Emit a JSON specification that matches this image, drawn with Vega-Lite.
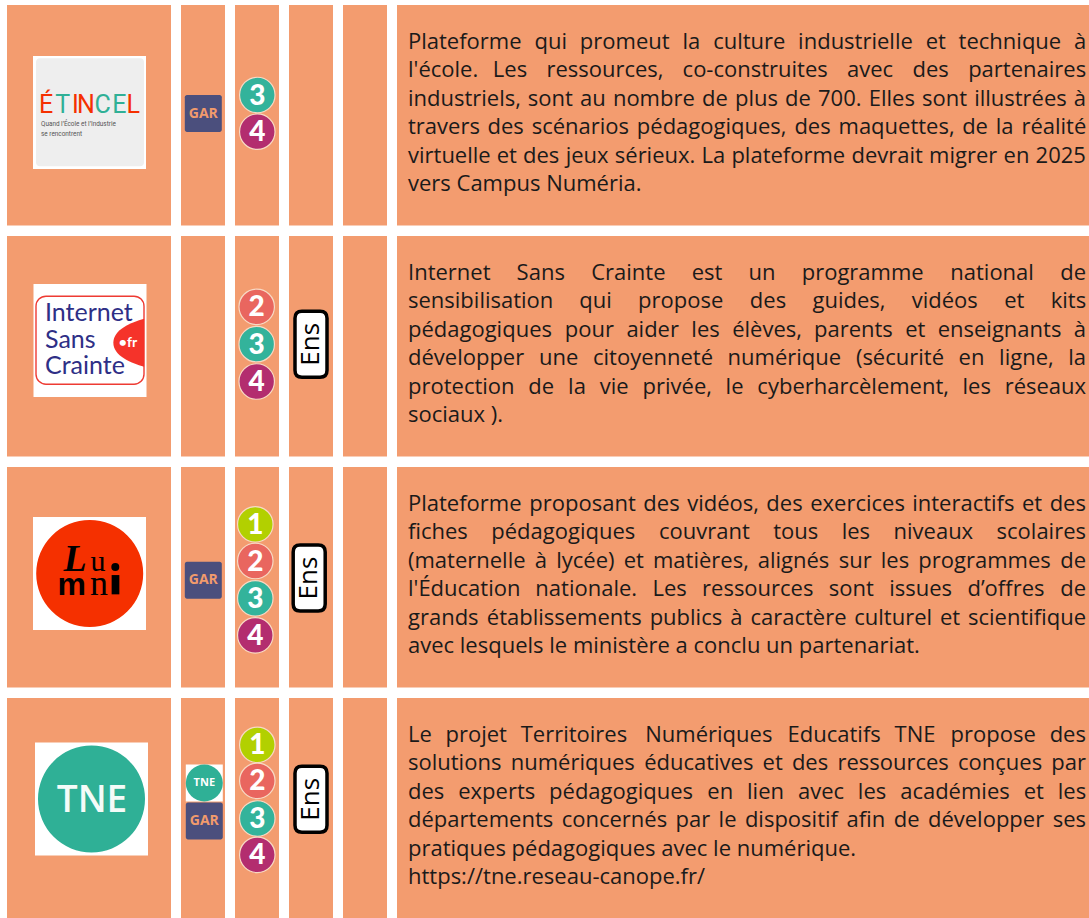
{
"$schema":"https://vega.github.io/schema/vega-lite/v6.json",
"background":"white",
"padding":{"left":7,"top":5,"right":0,"bottom":0},
"spacing":10,
"config":{"view":{"stroke":null}},
"datasets":{
"logos":[
{"row":"ETINCEL","part":"square","across":82.5,"down":107.5},{"row":"ISC","part":"square","across":83,"down":104.5},{"row":"LUMNI","part":"square","across":82.5,"down":106.5},{"row":"TNE","part":"square","across":84.5,"down":101},
{"row":"ETINCEL","part":"plate","across":83,"down":107.3},
{"row":"LUMNI","part":"disc","across":82.7,"down":106.5},{"row":"TNE","part":"disc","across":84.5,"down":101},
{"row":"ETINCEL","part":"letter","t":"É","across":39,"down":100,"tone":"navy"},{"row":"ETINCEL","part":"letter","t":"T","across":55.7,"down":100,"tone":"red"},{"row":"ETINCEL","part":"letter","t":"I","across":68.3,"down":100,"tone":"navy"},{"row":"ETINCEL","part":"letter","t":"N","across":79,"down":100,"tone":"navy"},{"row":"ETINCEL","part":"letter","t":"C","across":95.7,"down":100,"tone":"red"},{"row":"ETINCEL","part":"letter","t":"E","across":112.3,"down":100,"tone":"red"},{"row":"ETINCEL","part":"letter","t":"L","across":126.3,"down":100,"tone":"navy"},
{"row":"ETINCEL","part":"tagline","across":34,"down":119,"t":"Quand l’École et l’Industrie"},{"row":"ETINCEL","part":"tagline","across":34,"down":128.5,"t":"se rencontrent"},
{"row":"ISC","part":"border","across":83,"down":104.2},
{"row":"ISC","part":"bulge","across":121.7,"down":106.8},
{"row":"ISC","part":"isc","across":38,"down":77.2,"t":"Internet"},{"row":"ISC","part":"isc","across":38,"down":103.5,"t":"Sans"},{"row":"ISC","part":"isc","across":38,"down":129.5,"t":"Crainte"},
{"row":"ISC","part":"fr","across":121,"down":106.8,"t":"•fr"},
{"row":"LUMNI","part":"L","across":68,"down":92.6,"t":"L"},
{"row":"LUMNI","part":"u","across":91,"down":95,"t":"u"},
{"row":"LUMNI","part":"n","across":92,"down":116.5,"t":"n"},
{"row":"LUMNI","part":"m","across":64.7,"down":117.7,"t":"m"},
{"row":"LUMNI","part":"stem","across":108.5,"down":117.7},
{"row":"LUMNI","part":"dot","across":108.3,"down":100},
{"row":"TNE","part":"tne","across":85,"down":103,"t":"TNE"}
],
"access":[
{"row":"ETINCEL","part":"gar","across":22.3,"down":108.5},{"row":"ISC","part":"cell"},{"row":"LUMNI","part":"gar","across":22.3,"down":113.3},{"row":"TNE","part":"gar","across":23.3,"down":123},
{"row":"TNE","part":"tneSmall","across":23.3,"down":85}
],
"levels":[
{"row":"ETINCEL","level":"3","across":22.3,"down":90},{"row":"ETINCEL","level":"4","across":22.3,"down":126.7},
{"row":"ISC","level":"2","across":21.7,"down":70.8},{"row":"ISC","level":"3","across":21.7,"down":108.2},{"row":"ISC","level":"4","across":21.7,"down":145.5},
{"row":"LUMNI","level":"1","across":20.3,"down":57.3},{"row":"LUMNI","level":"2","across":20.3,"down":94},{"row":"LUMNI","level":"3","across":20.3,"down":131.3},{"row":"LUMNI","level":"4","across":20.3,"down":168.3},
{"row":"TNE","level":"1","across":22.3,"down":46.8},{"row":"TNE","level":"2","across":22.3,"down":82.8},{"row":"TNE","level":"3","across":22.3,"down":120.5},{"row":"TNE","level":"4","across":22.3,"down":156.8}],
"ens":[{"row":"ETINCEL","part":"cell"},{"row":"ISC","part":"ens","across":22,"down":108.3},{"row":"LUMNI","part":"ens","across":20.2,"down":111},{"row":"TNE","part":"ens","across":22,"down":101.3}],
"cells":[{"row":"ETINCEL"},{"row":"ISC"},{"row":"LUMNI"},{"row":"TNE"}],
"words":[
{"row":"ETINCEL","line":0,"start":0,"word":"Plateforme"},{"row":"ETINCEL","line":0,"start":18.66,"word":"qui"},{"row":"ETINCEL","line":0,"start":25.35,"word":"promeut"},{"row":"ETINCEL","line":0,"start":40.49,"word":"la"},{"row":"ETINCEL","line":0,"start":45.01,"word":"culture"},{"row":"ETINCEL","line":0,"start":57.54,"word":"industrielle"},{"row":"ETINCEL","line":0,"start":76.35,"word":"et"},{"row":"ETINCEL","line":0,"start":81.21,"word":"technique"},{"row":"ETINCEL","line":0,"start":98.22,"word":"à"},
{"row":"ETINCEL","line":1,"start":0,"word":"l'école."},{"row":"ETINCEL","line":1,"start":12.51,"word":"Les"},{"row":"ETINCEL","line":1,"start":20.42,"word":"ressources,"},{"row":"ETINCEL","line":1,"start":40.5,"word":"co-construites"},{"row":"ETINCEL","line":1,"start":64.75,"word":"avec"},{"row":"ETINCEL","line":1,"start":74.4,"word":"des"},{"row":"ETINCEL","line":1,"start":82.62,"word":"partenaires"},
{"row":"ETINCEL","line":2,"start":0,"word":"industriels,"},{"row":"ETINCEL","line":2,"start":17.67,"word":"sont"},{"row":"ETINCEL","line":2,"start":25.37,"word":"au"},{"row":"ETINCEL","line":2,"start":30.22,"word":"nombre"},{"row":"ETINCEL","line":2,"start":43.37,"word":"de"},{"row":"ETINCEL","line":2,"start":48.22,"word":"plus"},{"row":"ETINCEL","line":2,"start":55.62,"word":"de"},{"row":"ETINCEL","line":2,"start":60.47,"word":"700."},{"row":"ETINCEL","line":2,"start":67.95,"word":"Elles"},{"row":"ETINCEL","line":2,"start":75.8,"word":"sont"},{"row":"ETINCEL","line":2,"start":83.5,"word":"illustrées"},{"row":"ETINCEL","line":2,"start":98.2,"word":"à"},
{"row":"ETINCEL","line":3,"start":0,"word":"travers"},{"row":"ETINCEL","line":3,"start":11.73,"word":"des"},{"row":"ETINCEL","line":3,"start":18.24,"word":"scénarios"},{"row":"ETINCEL","line":3,"start":33.75,"word":"pédagogiques,"},{"row":"ETINCEL","line":3,"start":56.99,"word":"des"},{"row":"ETINCEL","line":3,"start":63.5,"word":"maquettes,"},{"row":"ETINCEL","line":3,"start":81.73,"word":"de"},{"row":"ETINCEL","line":3,"start":86.69,"word":"la"},{"row":"ETINCEL","line":3,"start":90.47,"word":"réalité"},
{"row":"ETINCEL","line":4,"start":0,"word":"virtuelle"},{"row":"ETINCEL","line":4,"start":13.09,"word":"et"},{"row":"ETINCEL","line":4,"start":16.97,"word":"des"},{"row":"ETINCEL","line":4,"start":23.25,"word":"jeux"},{"row":"ETINCEL","line":4,"start":30.5,"word":"sérieux."},{"row":"ETINCEL","line":4,"start":43.3,"word":"La"},{"row":"ETINCEL","line":4,"start":47.7,"word":"plateforme"},{"row":"ETINCEL","line":4,"start":65.42,"word":"devrait"},{"row":"ETINCEL","line":4,"start":76.85,"word":"migrer"},{"row":"ETINCEL","line":4,"start":87.85,"word":"en"},{"row":"ETINCEL","line":4,"start":92.57,"word":"2025"},
{"row":"ETINCEL","line":5,"start":0,"word":"vers Campus Numéria."},
{"row":"ISC","line":0,"start":0,"word":"Internet"},{"row":"ISC","line":0,"start":16.02,"word":"Sans"},{"row":"ISC","line":0,"start":27.02,"word":"Crainte"},{"row":"ISC","line":0,"start":41.84,"word":"est"},{"row":"ISC","line":0,"start":50.22,"word":"un"},{"row":"ISC","line":0,"start":58.07,"word":"programme"},{"row":"ISC","line":0,"start":79.98,"word":"national"},{"row":"ISC","line":0,"start":96.19,"word":"de"},
{"row":"ISC","line":1,"start":0,"word":"sensibilisation"},{"row":"ISC","line":1,"start":25.25,"word":"qui"},{"row":"ISC","line":1,"start":33.94,"word":"propose"},{"row":"ISC","line":1,"start":50.42,"word":"des"},{"row":"ISC","line":1,"start":59.66,"word":"guides,"},{"row":"ISC","line":1,"start":74.29,"word":"vidéos"},{"row":"ISC","line":1,"start":87.93,"word":"et"},{"row":"ISC","line":1,"start":94.79,"word":"kits"},
{"row":"ISC","line":2,"start":0,"word":"pédagogiques"},{"row":"ISC","line":2,"start":23.12,"word":"pour"},{"row":"ISC","line":2,"start":32.21,"word":"aider"},{"row":"ISC","line":2,"start":41.79,"word":"les"},{"row":"ISC","line":2,"start":47.81,"word":"élèves,"},{"row":"ISC","line":2,"start":59.88,"word":"parents"},{"row":"ISC","line":2,"start":73.33,"word":"et"},{"row":"ISC","line":2,"start":78.12,"word":"enseignants"},{"row":"ISC","line":2,"start":98.2,"word":"à"},
{"row":"ISC","line":3,"start":0,"word":"développer"},{"row":"ISC","line":3,"start":19.31,"word":"une"},{"row":"ISC","line":3,"start":27.28,"word":"citoyenneté"},{"row":"ISC","line":3,"start":47.13,"word":"numérique"},{"row":"ISC","line":3,"start":66.06,"word":"(sécurité"},{"row":"ISC","line":3,"start":81.21,"word":"en"},{"row":"ISC","line":3,"start":87.18,"word":"ligne,"},{"row":"ISC","line":3,"start":97.37,"word":"la"},
{"row":"ISC","line":4,"start":0,"word":"protection"},{"row":"ISC","line":4,"start":17.75,"word":"de"},{"row":"ISC","line":4,"start":23.61,"word":"la"},{"row":"ISC","line":4,"start":28.29,"word":"vie"},{"row":"ISC","line":4,"start":34.6,"word":"privée,"},{"row":"ISC","line":4,"start":46.84,"word":"le"},{"row":"ISC","line":4,"start":51.53,"word":"cyberharcèlement,"},{"row":"ISC","line":4,"start":81.78,"word":"les"},{"row":"ISC","line":4,"start":88,"word":"réseaux"},
{"row":"ISC","line":5,"start":0,"word":"sociaux )."},
{"row":"LUMNI","line":0,"start":0,"word":"Plateforme"},{"row":"LUMNI","line":0,"start":17.89,"word":"proposant"},{"row":"LUMNI","line":0,"start":34.71,"word":"des"},{"row":"LUMNI","line":0,"start":41.18,"word":"vidéos,"},{"row":"LUMNI","line":0,"start":52.85,"word":"des"},{"row":"LUMNI","line":0,"start":59.32,"word":"exercices"},{"row":"LUMNI","line":0,"start":74.37,"word":"interactifs"},{"row":"LUMNI","line":0,"start":90.55,"word":"et"},{"row":"LUMNI","line":0,"start":94.64,"word":"des"},
{"row":"LUMNI","line":1,"start":0,"word":"fiches"},{"row":"LUMNI","line":1,"start":12.28,"word":"pédagogiques"},{"row":"LUMNI","line":1,"start":37.03,"word":"couvrant"},{"row":"LUMNI","line":1,"start":53.86,"word":"tous"},{"row":"LUMNI","line":1,"start":63.97,"word":"les"},{"row":"LUMNI","line":1,"start":71.61,"word":"niveaux"},{"row":"LUMNI","line":1,"start":86.81,"word":"scolaires"},
{"row":"LUMNI","line":2,"start":0,"word":"(maternelle"},{"row":"LUMNI","line":2,"start":18.71,"word":"à"},{"row":"LUMNI","line":2,"start":21.86,"word":"lycée)"},{"row":"LUMNI","line":2,"start":31.81,"word":"et"},{"row":"LUMNI","line":2,"start":36.13,"word":"matières,"},{"row":"LUMNI","line":2,"start":51.58,"word":"alignés"},{"row":"LUMNI","line":2,"start":63.52,"word":"sur"},{"row":"LUMNI","line":2,"start":69.73,"word":"les"},{"row":"LUMNI","line":2,"start":75.27,"word":"programmes"},{"row":"LUMNI","line":2,"start":96.2,"word":"de"},
{"row":"LUMNI","line":3,"start":0,"word":"l'Éducation"},{"row":"LUMNI","line":3,"start":18.78,"word":"nationale."},{"row":"LUMNI","line":3,"start":36.06,"word":"Les"},{"row":"LUMNI","line":3,"start":43.37,"word":"ressources"},{"row":"LUMNI","line":3,"start":62.06,"word":"sont"},{"row":"LUMNI","line":3,"start":70.97,"word":"issues"},{"row":"LUMNI","line":3,"start":82.51,"word":"d’offres"},{"row":"LUMNI","line":3,"start":96.19,"word":"de"},
{"row":"LUMNI","line":4,"start":0,"word":"grands"},{"row":"LUMNI","line":4,"start":11.62,"word":"établissements"},{"row":"LUMNI","line":4,"start":35.64,"word":"publics"},{"row":"LUMNI","line":4,"start":47.53,"word":"à"},{"row":"LUMNI","line":4,"start":50.51,"word":"caractère"},{"row":"LUMNI","line":4,"start":65.82,"word":"culturel"},{"row":"LUMNI","line":4,"start":78.45,"word":"et"},{"row":"LUMNI","line":4,"start":82.59,"word":"scientifique"},
{"row":"LUMNI","line":5,"start":0,"word":"avec lesquels le ministère a conclu un partenariat."},
{"row":"TNE","line":0,"start":0,"word":"Le"},{"row":"TNE","line":0,"start":5.53,"word":"projet"},{"row":"TNE","line":0,"start":16.62,"word":"Territoires"},{"row":"TNE","line":0,"start":35,"word":"Numériques"},{"row":"TNE","line":0,"start":55.98,"word":"Educatifs"},{"row":"TNE","line":0,"start":71.76,"word":"TNE"},{"row":"TNE","line":0,"start":80.03,"word":"propose"},{"row":"TNE","line":0,"start":94.64,"word":"des"},
{"row":"TNE","line":1,"start":0,"word":"solutions"},{"row":"TNE","line":1,"start":15.15,"word":"numériques"},{"row":"TNE","line":1,"start":34.83,"word":"éducatives"},{"row":"TNE","line":1,"start":52.29,"word":"et"},{"row":"TNE","line":1,"start":56.62,"word":"des"},{"row":"TNE","line":1,"start":63.34,"word":"ressources"},{"row":"TNE","line":1,"start":81.13,"word":"conçues"},{"row":"TNE","line":1,"start":94.89,"word":"par"},
{"row":"TNE","line":2,"start":0,"word":"des"},{"row":"TNE","line":2,"start":7.41,"word":"experts"},{"row":"TNE","line":2,"start":20.81,"word":"pédagogiques"},{"row":"TNE","line":2,"start":44.15,"word":"en"},{"row":"TNE","line":2,"start":50.01,"word":"lien"},{"row":"TNE","line":2,"start":57.51,"word":"avec"},{"row":"TNE","line":2,"start":66.35,"word":"les"},{"row":"TNE","line":2,"start":72.59,"word":"académies"},{"row":"TNE","line":2,"start":90.81,"word":"et"},{"row":"TNE","line":2,"start":95.83,"word":"les"},
{"row":"TNE","line":3,"start":0,"word":"départements"},{"row":"TNE","line":3,"start":22.66,"word":"concernés"},{"row":"TNE","line":3,"start":39.45,"word":"par"},{"row":"TNE","line":3,"start":45.81,"word":"le"},{"row":"TNE","line":3,"start":49.69,"word":"dispositif"},{"row":"TNE","line":3,"start":64.68,"word":"afin"},{"row":"TNE","line":3,"start":71.64,"word":"de"},{"row":"TNE","line":3,"start":76.69,"word":"développer"},{"row":"TNE","line":3,"start":95.08,"word":"ses"},
{"row":"TNE","line":4,"start":0,"word":"pratiques pédagogiques avec le numérique."},
{"row":"TNE","line":5,"start":0,"word":"https://tne.reseau-canope.fr/"}
]
},
"hconcat":[
{"data":{"name":"logos"},"facet":{"row":{"field":"row","type":"nominal","header":null}},"spacing":10,"spec":{"width":164,"height":220.5,"view":{"fill":"#f39c6f","stroke":null},
"encoding":{
"x":{"field":"across","type":"quantitative","axis":null,"scale":{"domain":[0,164],"range":[0,164]}},
"y":{"field":"down","type":"quantitative","axis":null,"scale":{"domain":[0,220.5],"range":[0,220.5]}}},
"layer":[
{"transform":[{"filter":"datum.part==='square'"}],"mark":{"type":"point","shape":"square","filled":true,"color":"white","opacity":1,"size":12769}},
{"transform":[{"filter":"datum.part==='plate'"}],"mark":{"type":"point","filled":true,"opacity":1,"color":"#eeeeee","size":11664,"shape":"M-0.93,-1 H0.93 A0.07,0.07 0 0 1 1,-0.93 V0.93 A0.07,0.07 0 0 1 0.93,1 H-0.93 A0.07,0.07 0 0 1 -1,0.93 V-0.93 A0.07,0.07 0 0 1 -0.93,-1 Z"}},
{"transform":[{"filter":"datum.part==='disc'"}],"mark":{"type":"point","shape":"circle","filled":true,"opacity":1,"size":11449},"encoding":{"color":{"field":"row","type":"nominal","legend":null,"scale":{"domain":["LUMNI","TNE"],"range":["#f53000","#2fb096"]}}}},
{"transform":[{"filter":"datum.part==='letter'"}],"mark":{"type":"text","font":"Roboto","fontSize":25},"encoding":{"text":{"field":"t"},"color":{"field":"tone","type":"nominal","legend":null,"scale":{"domain":["navy","red"],"range":["#1f3a52","#e8452c"]}}}},
{"transform":[{"filter":"datum.part==='tagline'"}],"mark":{"type":"text","font":"Roboto","fontSize":6.4,"align":"left","color":"#555555"},"encoding":{"text":{"field":"t"}}},
{"transform":[{"filter":"datum.part==='border'"}],"mark":{"type":"point","filled":false,"opacity":1,"color":"#ee3b33","strokeWidth":1.4,"size":11664,"shape":"M-0.815,-0.815 H0.815 A0.185,0.185 0 0 1 1,-0.63 V0.63 A0.185,0.185 0 0 1 0.815,0.815 H-0.815 A0.185,0.185 0 0 1 -1,0.63 V-0.63 A0.185,0.185 0 0 1 -0.815,-0.815 Z"}},
{"transform":[{"filter":"datum.part==='bulge'"}],"mark":{"type":"point","filled":true,"opacity":1,"color":"#f5332a","size":2304,"shape":"M0.64,-1 C0.1,-0.85 -0.64,-0.55 -0.64,0 C-0.64,0.55 0.1,0.85 0.64,1 Z"}},
{"transform":[{"filter":"datum.part==='isc'"}],"mark":{"type":"text","font":"Lato","fontSize":25,"align":"left","color":"#2e2f86"},"encoding":{"text":{"field":"t"}}},
{"transform":[{"filter":"datum.part==='fr'"}],"mark":{"type":"text","font":"Lato","fontWeight":"bold","fontSize":14,"color":"white"},"encoding":{"text":{"field":"t"}}},
{"transform":[{"filter":"datum.part==='L'"}],"mark":{"type":"text","font":"Liberation Serif","fontWeight":"bold","fontStyle":"italic","fontSize":38,"color":"black"},"encoding":{"text":{"field":"t"}}},
{"transform":[{"filter":"datum.part==='u'"}],"mark":{"type":"text","font":"Liberation Serif","fontSize":30,"color":"black"},"encoding":{"text":{"field":"t"}}},
{"transform":[{"filter":"datum.part==='n'"}],"mark":{"type":"text","font":"Liberation Serif","fontSize":36,"color":"black"},"encoding":{"text":{"field":"t"}}},
{"transform":[{"filter":"datum.part==='m'"}],"mark":{"type":"text","font":"Liberation Sans","fontWeight":"bold","fontSize":32,"color":"black"},"encoding":{"text":{"field":"t"}}},
{"transform":[{"filter":"datum.part==='stem'"}],"mark":{"type":"point","filled":true,"opacity":1,"color":"black","size":372,"shape":"M-0.4,-1 H0.4 V1 H-0.4 Z"}},
{"transform":[{"filter":"datum.part==='dot'"}],"mark":{"type":"point","shape":"circle","filled":true,"opacity":1,"color":"black","size":64}},
{"transform":[{"filter":"datum.part==='tne'"}],"mark":{"type":"text","font":"Open Sans","fontWeight":600,"fontSize":37,"color":"#f4fbf8"},"encoding":{"text":{"field":"t"}}}
]}},
{"data":{"name":"access"},"facet":{"row":{"field":"row","type":"nominal","header":null}},"spacing":10,"spec":{"width":44,"height":220.5,"view":{"fill":"#f39c6f","stroke":null},
"encoding":{
"x":{"field":"across","type":"quantitative","axis":null,"scale":{"domain":[0,44],"range":[0,44]}},
"y":{"field":"down","type":"quantitative","axis":null,"scale":{"domain":[0,220.5],"range":[0,220.5]}}},
"layer":[
{"transform":[{"filter":"datum.part==='gar'"}],"mark":{"type":"point","filled":true,"opacity":1,"color":"#4b4f7d","size":1369,"shape":"M-0.88,-1 H0.88 A0.12,0.12 0 0 1 1,-0.88 V0.88 A0.12,0.12 0 0 1 0.88,1 H-0.88 A0.12,0.12 0 0 1 -1,0.88 V-0.88 A0.12,0.12 0 0 1 -0.88,-1 Z"}},
{"transform":[{"filter":"datum.part==='gar'"}],"mark":{"type":"text","font":"Open Sans","fontWeight":"bold","fontSize":14,"color":"#f29b6c","text":"GAR"}},
{"transform":[{"filter":"datum.part==='tneSmall'"}],"mark":{"type":"point","shape":"square","filled":true,"opacity":1,"color":"white","size":1369}},
{"transform":[{"filter":"datum.part==='tneSmall'"}],"mark":{"type":"point","shape":"circle","filled":true,"opacity":1,"color":"#2fb096","size":1369}},
{"transform":[{"filter":"datum.part==='tneSmall'"}],"mark":{"type":"text","font":"Open Sans","fontWeight":"bold","fontSize":11,"color":"white","text":"TNE"}}
]}},
{"data":{"name":"levels"},"facet":{"row":{"field":"row","type":"nominal","header":null}},"spacing":10,"spec":{"width":44,"height":220.5,"view":{"fill":"#f39c6f","stroke":null},
"encoding":{
"x":{"field":"across","type":"quantitative","axis":null,"scale":{"domain":[0,44],"range":[0,44]}},
"y":{"field":"down","type":"quantitative","axis":null,"scale":{"domain":[0,220.5],"range":[0,220.5]}}},
"layer":[
{"mark":{"type":"point","shape":"circle","filled":true,"opacity":1,"size":1260,"stroke":"#f7d9c4","strokeWidth":1.2,"clip":true},"encoding":{"fill":{"field":"level","type":"nominal","legend":null,"scale":{"domain":["1","2","3","4"],"range":["#b2d000","#e9665f","#33b39b","#b32d6f"]}}}},
{"mark":{"type":"text","font":"Lato","fontWeight":900,"fontSize":28,"color":"white","dy":1.5,"clip":true},"encoding":{"text":{"field":"level"}}}
]}},
{"data":{"name":"ens"},"facet":{"row":{"field":"row","type":"nominal","header":null}},"spacing":10,"spec":{"width":44,"height":220.5,"view":{"fill":"#f39c6f","stroke":null},
"encoding":{
"x":{"field":"across","type":"quantitative","axis":null,"scale":{"domain":[0,44],"range":[0,44]}},
"y":{"field":"down","type":"quantitative","axis":null,"scale":{"domain":[0,220.5],"range":[0,220.5]}}},
"layer":[
{"transform":[{"filter":"datum.part==='ens'"}],"mark":{"type":"point","filled":true,"opacity":1,"fill":"white","stroke":"black","strokeWidth":3.5,"size":4356,"clip":true,"shape":"M-0.275,-1 H0.275 Q0.485,-1 0.485,-0.79 V0.79 Q0.485,1 0.275,1 H-0.275 Q-0.485,1 -0.485,0.79 V-0.79 Q-0.485,-1 -0.275,-1 Z"}},
{"transform":[{"filter":"datum.part==='ens'"}],"mark":{"type":"text","font":"Open Sans","fontSize":26,"color":"black","angle":270,"text":"Ens","clip":true}}
]}},
{"data":{"name":"cells"},"facet":{"row":{"field":"row","type":"nominal","header":null}},"spacing":10,"spec":{"width":44,"height":220.5,"view":{"fill":"#f39c6f","stroke":null},"mark":{"type":"text","text":""},"encoding":{}}},
{"data":{"name":"words"},"facet":{"row":{"field":"row","type":"nominal","header":null}},"spacing":10,"spec":{"width":692,"height":220.5,"view":{"fill":"#f39c6f","stroke":null},
"mark":{"type":"text","font":"Open Sans","fontSize":22,"align":"left","color":"#1a1a1a"},"encoding":{
"y":{"field":"line","type":"quantitative","axis":null,"scale":{"domain":[0,5],"range":[37,179]}},
"x":{"field":"start","type":"quantitative","axis":null,"scale":{"domain":[0,100],"range":[11,689]}},
"text":{"field":"word"}}}}
]
}
